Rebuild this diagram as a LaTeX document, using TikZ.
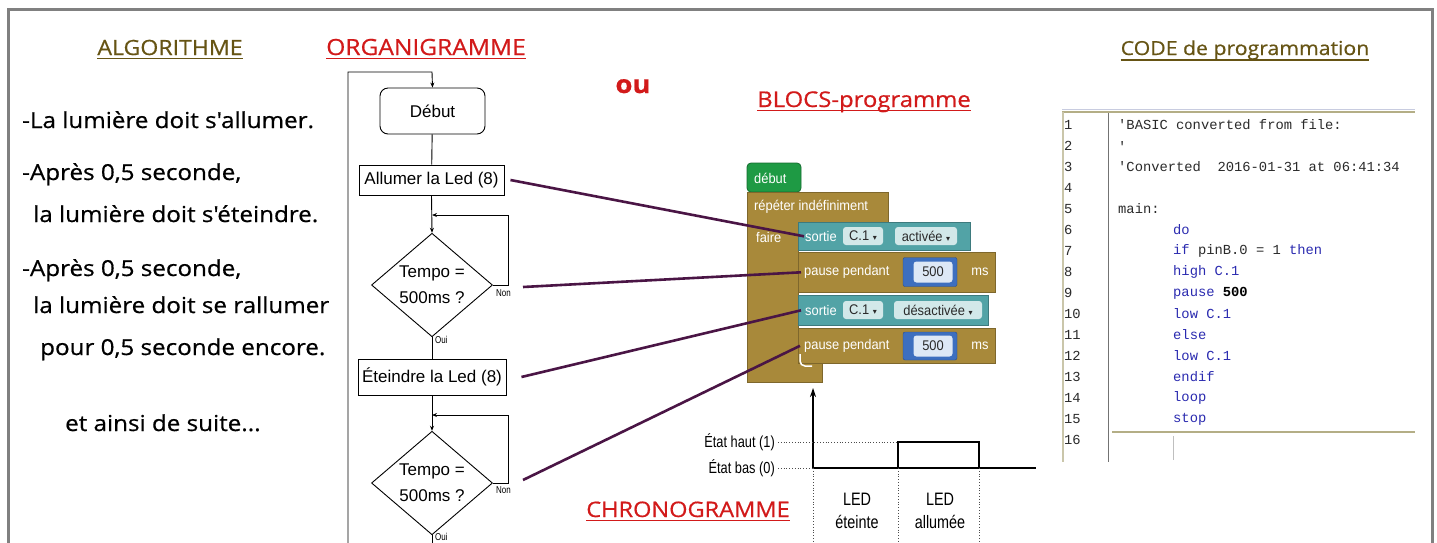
\documentclass[tikz,border=0pt]{standalone}
\usepackage{fontspec}
\setmainfont{Liberation Sans}
\setmonofont{Liberation Mono}
\newfontfamily\comicf[FakeStretch=1.1, FakeBold=0.6]{Open Sans}
\newfontfamily\narrowf[FakeStretch=0.8]{Liberation Sans}
\newfontfamily\blockf[FakeStretch=0.92]{Liberation Sans}
\newfontfamily\symf{DejaVu Sans}
\usetikzlibrary{shapes.geometric,arrows.meta}
\definecolor{framegray}{HTML}{808080}
\definecolor{titleolive}{HTML}{665414}
\definecolor{titlered}{HTML}{D21A1A}
\definecolor{linkpurple}{HTML}{4A1545}
\definecolor{blockbrown}{HTML}{A8893A}
\definecolor{blockteal}{HTML}{52A3A6}
\definecolor{fieldteal}{HTML}{D2E8E9}
\definecolor{blockblue}{HTML}{3D6FBF}
\definecolor{fieldblue}{HTML}{DDE8F6}
\definecolor{blockgreen}{HTML}{1E9A44}
\definecolor{codeblue}{HTML}{2B2BB0}
\definecolor{codegray}{HTML}{2A2A2A}
\definecolor{gutterline}{HTML}{B4AE86}
\definecolor{topblue}{HTML}{C8CCE0}
\begin{document}
\begin{tikzpicture}[x=1pt,y=-1pt,
  oltitle/.style={font=\comicf\fontsize{21}{24}\selectfont, text=titleolive, inner sep=0, anchor=base},
  rdtitle/.style={font=\comicf\fontsize{22}{26}\selectfont, text=titlered, inner sep=0, anchor=base},
  algotext/.style={font=\comicf\fontsize{22}{26}\selectfont, inner sep=0, anchor=base west},
  flowbox/.style={draw=black, line width=0.9pt, inner sep=0, font=\fontsize{17}{20}\selectfont},
  flowdia/.style={draw=black, line width=0.9pt, diamond, minimum width=121, minimum height=96, inner sep=0, align=center, font=\fontsize{17}{26}\selectfont},
  flowline/.style={draw=black, line width=0.9pt},
  tip/.style={-{Stealth[length=5pt,width=4pt]}},
  smalllab/.style={font=\narrowf\fontsize{10}{12}\selectfont, inner sep=0},
  link/.style={draw=linkpurple, line width=2.6pt},
  stmt/.style={anchor=north west, inner sep=0},
  blocktext/.style={font=\blockf\fontsize{14}{16}\selectfont, text=white, inner sep=0, anchor=west},
  field/.style={rounded corners=3pt, inner sep=0, minimum height=18, font=\blockf\fontsize{14}{16}\selectfont, text=codegray},
  chrolab/.style={font=\narrowf\fontsize{16}{18}\selectfont, inner sep=0},
  codeline/.style={font=\ttfamily\fontsize{13.8}{16}\selectfont, inner sep=0, anchor=west},
  dotline/.style={draw=black!70, line width=0.8pt, dotted}
]
\fill[white] (0,0) rectangle (1437,542);
\useasboundingbox (0,0) rectangle (1437,542);
\draw[framegray, line width=3pt] (8,548) -- (8,9) -- (1432,9) -- (1432,548);

% ---------- titles ----------
\node[oltitle] (algo) at (170,55) {ALGORITHME};
\draw[titleolive, line width=1.5pt] ([yshift=-3.5pt]algo.base west) -- ([yshift=-3.5pt]algo.base east);
\node[rdtitle, font=\comicf\fontsize{22.3}{26}\selectfont] (orga) at (426,55) {ORGANIGRAMME};
\draw[titlered, line width=1.5pt] ([yshift=-3.5pt]orga.base west) -- ([yshift=-3.5pt]orga.base east);
\node[font=\comicf\bfseries\fontsize{25}{28}\selectfont, text=titlered, inner sep=0, anchor=base] (ou) at (633,93) {ou};
\node[rdtitle, font=\comicf\fontsize{21.7}{26}\selectfont] (blocs) at (864,107) {BLOCS-programme};
\draw[titlered, line width=1.5pt] ([yshift=-3.5pt]blocs.base west) -- ([yshift=-3.5pt]blocs.base east);
\node[rdtitle, font=\comicf\fontsize{21.4}{26}\selectfont] (chrono) at (688,517) {CHRONOGRAMME};
\draw[titlered, line width=1.5pt] ([yshift=-3.5pt]chrono.base west) -- ([yshift=-3.5pt]chrono.base east);
\node[oltitle, font=\comicf\fontsize{19.3}{24}\selectfont] (code) at (1245,55) {CODE de programmation};
\draw[titleolive, line width=1.5pt] ([yshift=-5pt]code.base west) -- ([yshift=-5pt]code.base east);

% ---------- algorithm ----------
\node[algotext] (a1) at (22,128) {-La lumière doit s'allumer.};
\node[algotext] (a2) at (22,180) {-Après 0,5 seconde,};
\node[algotext] (a3) at (33,222) {la lumière doit s'éteindre.};
\node[algotext] (a4) at (22,276) {-Après 0,5 seconde,};
\node[algotext] (a5) at (33,313) {la lumière doit se rallumer};
\node[algotext] (a6) at (40,355) {pour 0,5 seconde encore.};
\node[algotext] (a7) at (65,431) {et ainsi de suite...};

% ---------- flowchart ----------
\node[flowbox, rounded corners=8pt, minimum width=105, minimum height=46] (deb) at (432.5,111) {Début};
\node[flowbox, minimum width=145, minimum height=30] (all) at (431.5,180) {Allumer la Led (8)};
\node[flowdia] (d1) at (432,285) {Tempo =\\500ms ?};
\node[flowbox, minimum width=148, minimum height=36] (ete) at (432,377) {Éteindre la Led (8)};
\node[flowdia] (d2) at (432,483) {Tempo =\\500ms ?};
\coordinate (top) at (432,72);
\coordinate (outl) at (348,72);
\coordinate (outb) at (348,548);
\coordinate (flowend) at (432,548);
\coordinate (j1) at (432,215);
\coordinate (j2) at (432,415);
\draw[flowline, tip] (outb) -- (outl) -- (top) -- (deb.north);
\draw[flowline] (deb) -- (all);
\draw[flowline, tip] (all.south) -- (d1.north);
\draw[flowline, tip] (d1.east) -- ++(15,0) |- (j1);
\draw[flowline] (d1.south) -- (ete.north);
\draw[flowline, tip] (ete.south) -- (d2.north);
\draw[flowline, tip] (d2.east) -- ++(15,0) |- (j2);
\draw[flowline] (d2.south) -- (flowend);
\node[smalllab, anchor=north west] (non1) at (496,289) {Non};
\node[smalllab, anchor=north west] (oui1) at (435,336) {Oui};
\node[smalllab, anchor=north west] (non2) at (496,486) {Non};
\node[smalllab, anchor=north west] (oui2) at (435,533) {Oui};

% ---------- blocks ----------
\draw[blockgreen!70!black, fill=blockgreen, line width=0.8pt, rounded corners=4pt] (747,192) -- (747,163) -- (801,163) -- (801,192) -- cycle;
\node[blocktext] (debb) at (754,178) {début};
\draw[blockbrown!75!black, fill=blockbrown, line width=0.6pt] (747,192) -- (888,192) -- (888,222) -- (798,222) -- (798,363) -- (822,363) -- (822,382) -- (747,382) -- cycle;
\node[blocktext] (rep) at (754,207) {répéter indéfiniment};
\node[blocktext] (faire) at (756,237) {faire};

\node[stmt, fill=blockteal, draw=blockteal!75!black, line width=0.6pt, minimum width=172, minimum height=28] (s1) at (798,222) {};
\node[stmt, fill=blockbrown, draw=blockbrown!75!black, line width=0.6pt, minimum width=197, minimum height=40] (p1) at (798,252) {};
\node[stmt, fill=blockteal, draw=blockteal!75!black, line width=0.6pt, minimum width=190, minimum height=30] (s2) at (798,295) {};
\node[stmt, fill=blockbrown, draw=blockbrown!75!black, line width=0.6pt, minimum width=197, minimum height=35] (p2) at (798,328) {};
\draw[white, line width=1.5pt, rounded corners=5pt] (800,354) -- (800,366) -- (812,366);

\node[blocktext] (s1t) at ([xshift=7pt]s1.west) {sortie};
\node[field, fill=fieldteal, minimum width=40] (s1f1) at (863,236) {C.1 {\symf\fontsize{8}{8}\selectfont ▾}};
\node[field, fill=fieldteal, minimum width=62] (s1f2) at (926,236) {activée {\symf\fontsize{8}{8}\selectfont ▾}};
\node[blocktext] (s2t) at ([xshift=7pt]s2.west) {sortie};
\node[field, fill=fieldteal, minimum width=40] (s2f1) at (863,310) {C.1 {\symf\fontsize{8}{8}\selectfont ▾}};
\node[field, fill=fieldteal, minimum width=88] (s2f2) at (938,310) {désactivée {\symf\fontsize{8}{8}\selectfont ▾}};

\node[blocktext] (p1t) at ([xshift=6pt]p1.west) {pause pendant};
\node[fill=blockblue, draw=blockblue!70!black, rounded corners=2pt, minimum width=54, minimum height=29, inner sep=0] (b1) at (930,272) {};
\node[field, fill=fieldblue, minimum width=39, minimum height=21] (b1f) at (933,272) {500};
\node[blocktext, anchor=center] (ms1) at (980,272) {ms};
\node[blocktext] (p2t) at ([xshift=6pt]p2.west) {pause pendant};
\node[fill=blockblue, draw=blockblue!70!black, rounded corners=2pt, minimum width=54, minimum height=28, inner sep=0] (b2) at (930,346) {};
\node[field, fill=fieldblue, minimum width=39, minimum height=21] (b2f) at (933,346) {500};
\node[blocktext, anchor=center] (ms2) at (980,346) {ms};

% ---------- purple links ----------
\coordinate (l2s) at (523,287);
\coordinate (l4s) at (523,480);
\draw[link] ([xshift=6pt]all.east) -- ([xshift=6pt]s1.west);
\draw[link] (l2s) -- ([xshift=3pt]p1.west);
\draw[link] ([xshift=15pt]ete.east) -- ([xshift=3pt]s2.west);
\draw[link] (l4s) -- ([xshift=2pt]p2.west);

% ---------- chronogram ----------
\coordinate (o) at (813,468);
\coordinate (ytop) at (813,388);
\coordinate (xend) at (1036,468);
\coordinate (r1) at (898,468);
\coordinate (r2) at (979,468);
\draw[line width=1.1pt, -{Stealth[length=9pt,width=6pt]}] (o) -- (ytop);
\draw[line width=1.1pt] (o) -- (xend);
\draw[line width=1.3pt] (r1) -- (898,442) -- (979,442) -- (r2);
\node[chrolab, anchor=east] (eh) at (775,442) {État haut (1)};
\node[chrolab, anchor=east] (eb) at (775,468) {État bas (0)};
\draw[dotline] ([xshift=3pt]eh.east) -- (898,442);
\draw[dotline] ([xshift=3pt]eb.east) -- (o);
\draw[dotline] (o) -- (813,548);
\draw[dotline] (r1) -- (898,548);
\draw[dotline] (r2) -- (979,548);
\node[chrolab, font=\narrowf\fontsize{18}{23}\selectfont, align=center] (ledoff) at (857,511) {LED\\éteinte};
\node[chrolab, font=\narrowf\fontsize{18}{23}\selectfont, align=center] (ledon) at (940,511) {LED\\allumée};

% ---------- code ----------
\fill[white] (1062,110) rectangle (1415,462);
\draw[topblue, line width=1.5pt] (1062,109.5) -- (1415,109.5);
\draw[gutterline, line width=1.8pt] (1062,112) -- (1415,112);
\draw[gutterline!70, line width=1.2pt] (1063,112) -- (1063,462);
\draw[black!55, line width=0.9pt] (1108,113) -- (1108,462);
\draw[gutterline, line width=1.6pt] (1112,432) -- (1415,432);
\draw[black!25, line width=0.8pt] (1173,436) -- (1173,460);
\foreach \n in {1,...,16} {
  \node[codeline, text=codegray] (ln\n) at (1064,{125+21*(\n-1)}) {\n};
}
\node[codeline, text=codegray] (c1) at (1118,125) {'BASIC converted from file:};
\node[codeline, text=codegray] (c2) at (1118,146) {'};
\node[codeline, text=codegray] (c3) at (1118,167) {'Converted\ \ 2016-01-31 at 06:41:34};
\node[codeline, text=codegray] (c5) at (1118,209) {main:};
\node[codeline, text=codeblue] (c6) at (1173,230) {do};
\node[codeline, text=codeblue] (c7) at (1173,251) {if {\color{codegray}pinB.0 = 1} then};
\node[codeline, text=codeblue] (c8) at (1173,272) {high C.1};
\node[codeline, text=codeblue] (c9) at (1173,293) {pause {\color{black}\bfseries 500}};
\node[codeline, text=codeblue] (c10) at (1173,314) {low C.1};
\node[codeline, text=codeblue] (c11) at (1173,335) {else};
\node[codeline, text=codeblue] (c12) at (1173,356) {low C.1};
\node[codeline, text=codeblue] (c13) at (1173,377) {endif};
\node[codeline, text=codeblue] (c14) at (1173,398) {loop};
\node[codeline, text=codeblue] (c15) at (1173,419) {stop};
\end{tikzpicture}
\end{document}
